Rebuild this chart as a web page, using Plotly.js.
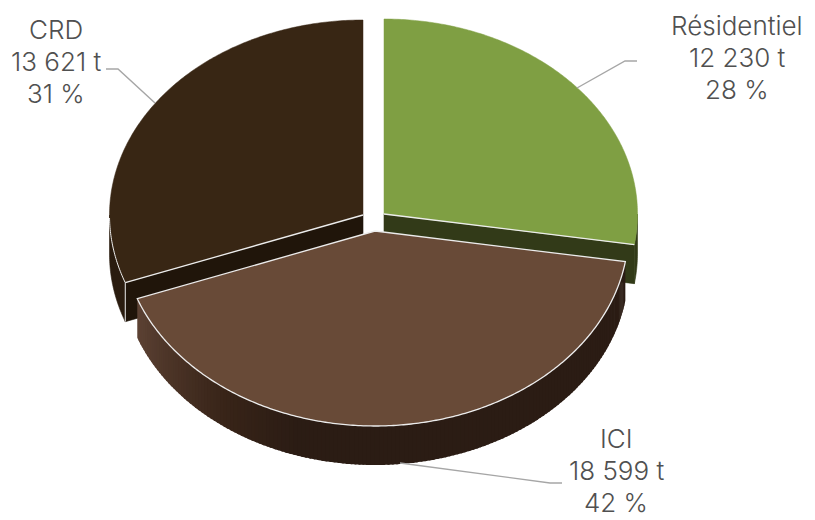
<!DOCTYPE html>
<html><head><meta charset="utf-8">
<script src="https://cdn.plot.ly/plotly-3.0.1.min.js"></script>
<style>html,body{margin:0;padding:0;background:#fff}#c{width:815px;height:520px}</style></head>
<body><div id="c"></div>
<script>
// Data
const categories = ['Résidentiel', 'ICI', 'CRD'];
const tonnes = [12230, 18599, 13621];
const unit = 't';

// Pie drawing parameters (style only)
const RX = 253.5, RY = 195, DEPTH = 39;
const centres = [[384, 214], [375, 231], [363, 215]];
const topColours = ['#7f9f43', '#684a37', '#382614'];
const wallColours = ['#323a18', '#2b1c14', '#20150a'];
const EDGE = '#ececec';

const total = tonnes.reduce((a, b) => a + b, 0);
const fracs = tonnes.map(v => v / total);
let acc = 0;
const spans = fracs.map(f => { const s = [acc, acc + f].map(a => a * 2 * Math.PI); acc += f; return s; });

function pt(i, t, dy) {
  return [centres[i][0] + RX * Math.sin(t), centres[i][1] - RY * Math.cos(t) + (dy || 0)];
}
function arc(i, a, b, dy) {
  const n = Math.max(2, Math.ceil(Math.abs(b - a) / 0.01));
  const out = [];
  for (let k = 0; k <= n; k++) out.push(pt(i, a + (b - a) * k / n, dy));
  return out;
}
function poly(points, fill, line, w) {
  const xs = points.map(p => p[0]), ys = points.map(p => p[1]);
  xs.push(xs[0]); ys.push(ys[0]);
  return { type: 'scatter', mode: 'lines', x: xs, y: ys, fill: 'toself', fillcolor: fill,
    line: { color: line || fill, width: w === undefined ? 0.6 : w, simplify: false }, hoverinfo: 'skip', showlegend: false };
}
function open(points, color, w) {
  return { type: 'scatter', mode: 'lines', x: points.map(p => p[0]), y: points.map(p => p[1]),
    line: { color: color, width: w, simplify: false }, hoverinfo: 'skip', showlegend: false };
}
function outerWall(i, a, b, fill) {
  return poly(arc(i, a, b, 0).concat(arc(i, b, a, DEPTH)), fill);
}
function mix(c1, c2, f) {
  return 'rgb(' + c1.map((v, k) => Math.round(v + (c2[k] - v) * f)).join(',') + ')';
}

const traces = [];
// Résidentiel: walls
{
  const [a, b] = spans[0];
  const c = centres[0];
  traces.push(outerWall(0, Math.PI / 2, b, wallColours[0]));
  const e = pt(0, b);
  traces.push(poly([c, e, [e[0], e[1] + DEPTH], [c[0], c[1] + DEPTH]], wallColours[0]));
}
// CRD: walls
{
  const [a, b] = spans[2];
  const c = centres[2];
  traces.push(outerWall(2, a, 1.5 * Math.PI, '#2a1c0f'));
  const s = pt(2, a);
  traces.push(poly([c, s, [s[0], s[1] + DEPTH], [c[0], c[1] + DEPTH]], wallColours[2]));
  traces.push(open([s, [s[0], s[1] + DEPTH]], EDGE, 1));
}
// Tops of the two rear slices
[0, 2].forEach(i => {
  const [a, b] = spans[i];
  const rim = arc(i, a, b, 0);
  traces.push(poly([centres[i]].concat(rim), topColours[i], topColours[i], 0.5));
  if (i === 0) traces.push(open([centres[i], rim[rim.length - 1]], EDGE, 1.3));
  else traces.push(open([rim[0], centres[i]], EDGE, 1.3));
  if (i === 2) traces.push(open(rim.slice(0, 35), EDGE, 1));
});
// ICI: curved wall with its shading from left to right
{
  const [a, b] = spans[1];
  const shadeStart = [92, 66, 52], shadeMid = [56, 36, 24], shadeEnd = wallColours[1].match(/\w\w/g).map(h => parseInt(h, 16));
  const bands = 160;
  for (let k = 0; k < bands; k++) {
    const t0 = b - (b - a) * k / bands, t1 = b - (b - a) * (k + 1.5) / bands;
    const f = k / bands;
    const col = f < 0.22 ? mix(shadeStart, shadeMid, f / 0.22) : mix(shadeMid, shadeEnd, Math.min(1, (f - 0.22) / 0.12));
    const w = outerWall(1, t0, Math.max(a, t1), col);
    w.line.width = 0;
    traces.push(w);
  }
  const rim = arc(1, a, b, 0);
  traces.push(poly([centres[1]].concat(rim), topColours[1], EDGE, 1.3));
}
// Leader lines
const leaderColour = '#a6a6a6';
traces.push(open([[577, 88], [625, 61], [637, 61]], leaderColour, 1.4));
traces.push(open([[400, 463], [550, 483], [562, 483]], leaderColour, 1.4));
traces.push(open([[155, 103], [118, 69], [106, 69]], leaderColour, 1.4));

// Labels: one annotation per line so the line spacing can follow the reference
const fmt = v => String(v).replace(/\B(?=(\d{3})+$)/g, '\u00a0');
const labelX = [737, 616, 56];
const labelY = [[25, 57, 89], [438, 470, 502], [29, 61, 93]];
const annotations = [];
categories.forEach((c, i) => {
  [c, fmt(tonnes[i]) + '\u00a0' + unit, Math.round(fracs[i] * 100) + '\u00a0%'].forEach((text, j) => {
    annotations.push({ x: labelX[i], y: labelY[i][j], xref: 'x', yref: 'y', xanchor: 'center', yanchor: 'middle',
      showarrow: false, align: 'center', text });
  });
});

Plotly.newPlot('c', traces, {
  width: 815, height: 520, margin: { l: 0, r: 0, t: 0, b: 0 },
  paper_bgcolor: '#fff', plot_bgcolor: '#fff', showlegend: false,
  font: { family: 'Inter, sans-serif', size: 26, color: '#505050', weight: 300 },
  xaxis: { range: [0, 815], visible: false, fixedrange: true },
  yaxis: { range: [520, 0], visible: false, fixedrange: true },
  annotations
}, { staticPlot: true, displayModeBar: false });
</script></body></html>
